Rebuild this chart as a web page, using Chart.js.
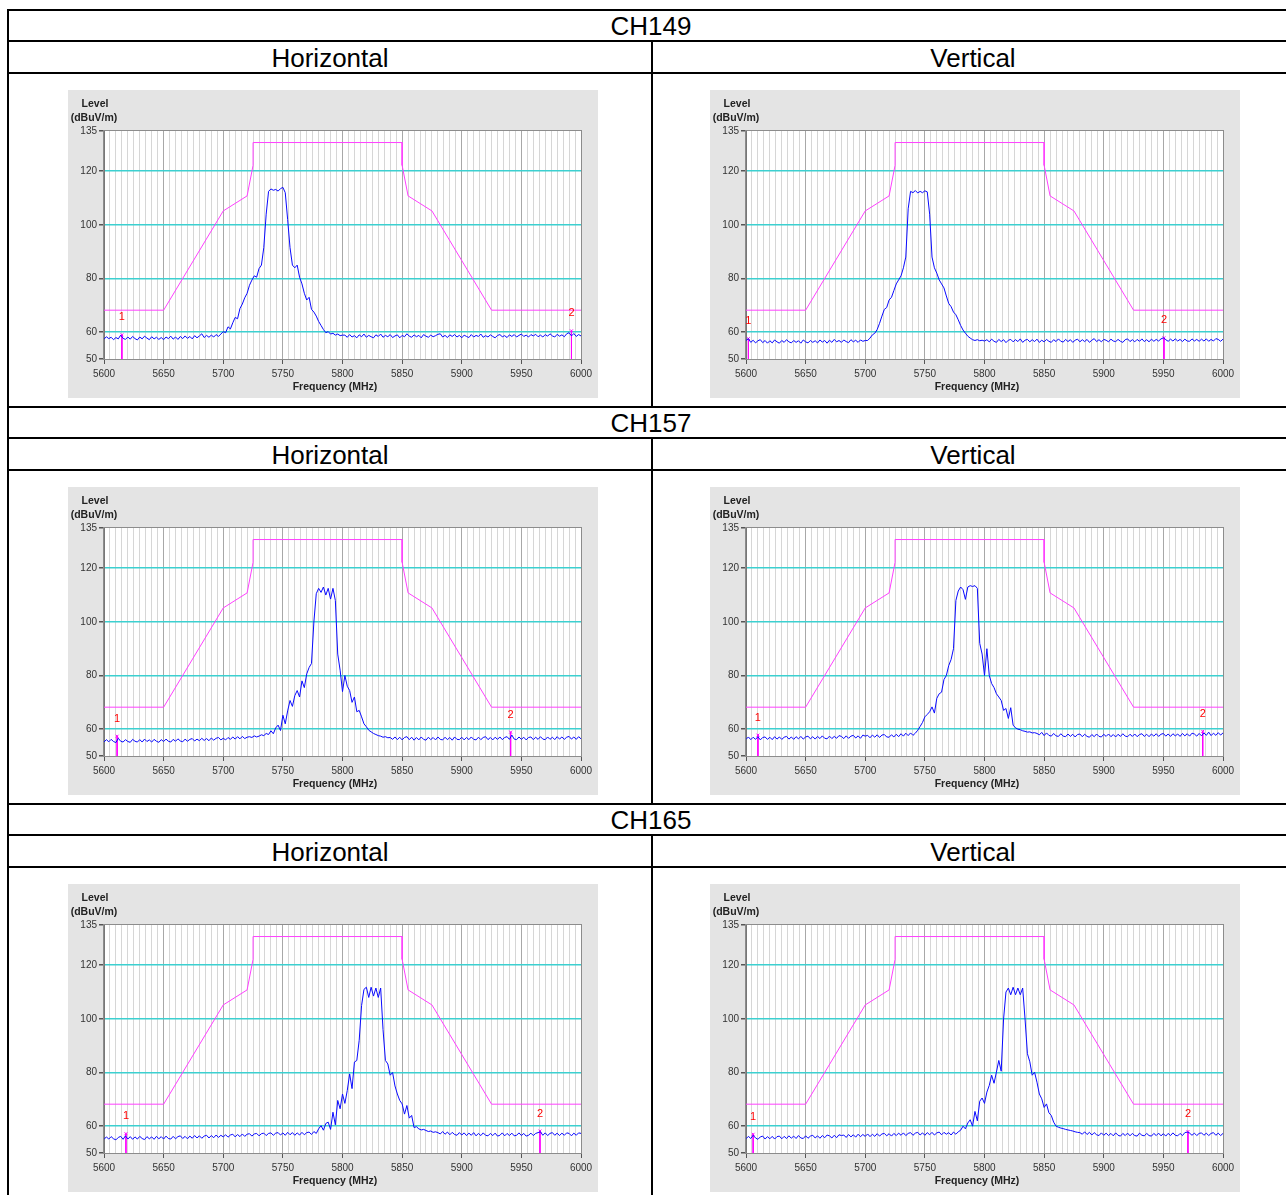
<!DOCTYPE html>
<html>
<head>
<meta charset="utf-8">
<script src="https://cdn.jsdelivr.net/npm/chart.js@4.4.1/dist/chart.umd.min.js"></script>
<style>
body { margin: 0; background: #fff; font-family: Arial, "Liberation Sans", sans-serif; }
#page { position: relative; width: 1286px; height: 1195px; overflow: hidden; }
.hl { position: absolute; left: 7px; width: 1300px; height: 2px; background: #000; }
.vl { position: absolute; width: 2px; background: #000; }
.cap { position: absolute; font-size: 26px; line-height: 30px; text-align: center; color: #000; }
canvas { position: absolute; }
</style>
</head>
<body>
<div id="page"></div>
<script>
// sweep grid of the receiver (MHz)
const sweepStart = 5600;
const sweepStop = 6000;
const sweepStep = 2;

// measured levels (dBuV/m), one value per sweep point
const levelsH149 = [
  57.4,58.3,57.6,58.1,57.2,58.0,57.5,58.9,57.7,57.3,
  58.2,57.4,58.4,57.6,57.1,58.2,57.5,58.5,57.8,57.2,
  58.3,57.5,58.1,57.3,58.0,57.2,58.2,57.6,58.5,57.4,
  58.2,57.3,58.4,57.6,58.6,57.7,58.4,57.5,58.7,57.9,
  58.6,59.4,58.0,58.8,58.1,58.9,58.2,59.1,58.4,59.3,
  60.2,
  59.8,62.0,61.2,63.5,65.5,65.0,68.8,70.5,72.8,74.5,
  77.5,79.4,81.0,80.5,83.7,85.0,91.5,104.0,112.5,113.4,
  112.9,113.2,112.6,113.5,114.0,112.0,102.0,91.5,85.0,84.0,
  85.0,80.5,78.0,74.5,72.0,73.0,68.5,67.5,66.0,64.0,
  62.5,61.0,59.8,60.2,59.3,59.6,58.9,59.3,58.7,58.9,
  58.9,58.1,59.1,58.2,58.7,57.9,59.0,58.3,59.3,58.1,
  58.8,58.3,57.9,59.0,58.4,59.3,58.1,58.8,58.3,59.1,
  58.0,58.6,59.0,57.9,58.8,58.3,59.4,58.5,58.1,59.0,
  58.3,58.8,57.9,59.1,58.5,58.1,58.9,58.3,58.7,59.2,
  59.4,58.2,58.8,58.0,59.0,58.4,59.1,58.2,58.8,57.9,
  58.9,58.4,58.0,59.1,58.2,58.8,58.4,59.3,58.1,58.7,
  58.2,59.0,58.4,57.9,58.8,59.1,58.3,58.7,58.0,59.0,
  58.4,59.1,58.2,58.8,59.3,58.4,58.9,58.2,59.1,58.6,
  59.2,58.3,58.9,58.2,59.1,58.5,59.4,58.6,58.2,59.2,
  58.5,59.0,58.3,59.4,59.8,58.6,59.5,58.4,59.1,58.6
];
const levelsV149 = [
  56.9,57.6,56.2,57.0,56.0,56.8,57.2,56.1,56.9,55.9,
  56.8,56.0,57.1,56.4,55.9,56.9,56.2,57.2,56.4,56.0,
  56.9,56.2,56.8,55.9,57.1,56.4,56.0,56.9,56.2,56.8,
  56.0,57.1,56.3,56.9,55.9,57.0,56.2,57.3,56.4,56.9,
  56.2,57.1,56.5,56.1,57.2,56.4,57.0,56.2,57.1,56.6,
  56.9,
  56.9,57.8,59.0,59.6,61.0,63.3,66.0,68.5,69.2,72.0,
  73.0,75.5,78.0,79.5,81.0,84.0,88.0,106.0,112.5,112.0,
  112.8,111.9,112.5,112.0,112.7,112.3,104.0,88.0,84.0,82.0,
  79.5,78.0,76.5,73.5,70.7,69.5,67.5,66.5,64.6,62.5,
  60.8,59.6,58.5,57.8,57.2,56.9,57.2,56.8,57.0,56.7,
  57.2,56.4,57.4,56.6,56.2,57.3,56.5,57.2,56.1,57.0,
  57.3,56.4,57.2,56.5,57.5,56.2,57.0,57.3,56.4,57.2,
  56.5,57.4,56.2,57.0,56.4,57.3,56.6,56.2,57.2,56.5,
  57.5,56.6,56.3,57.3,56.5,57.2,56.2,57.0,57.4,56.4,
  57.2,56.5,57.3,56.2,57.0,57.6,56.5,57.2,56.4,57.3,
  57.0,56.4,57.4,56.7,56.5,57.3,56.6,56.2,57.2,57.5,
  56.5,57.2,56.4,57.3,56.6,57.5,56.5,57.2,56.4,57.4,
  56.6,57.3,56.7,57.5,57.9,57.2,56.6,57.4,56.7,57.5,
  56.7,57.3,56.5,57.4,56.7,56.6,57.5,56.7,57.3,56.6,
  57.4,56.7,57.5,56.6,57.3,56.7,57.6,57.3,56.6,57.4
];
const levelsH157 = [
  55.2,56.1,55.3,56.2,55.4,55.0,56.6,55.5,55.2,56.1,
  55.4,55.1,56.2,55.5,55.2,56.1,55.2,56.3,55.4,56.0,
  55.2,56.2,55.5,55.1,56.1,55.4,56.3,55.5,55.2,56.2,
  55.5,56.4,55.6,55.3,56.3,55.5,56.2,56.5,55.6,56.3,
  55.7,56.6,55.8,56.5,55.7,56.7,55.9,56.6,56.9,56.0,
  56.6,
  56.0,56.9,56.2,57.1,56.3,57.2,56.4,57.3,56.5,57.0,
  57.2,56.9,57.5,57.1,57.4,57.9,57.6,58.4,58.0,59.4,
  58.3,60.5,61.5,59.5,65.2,62.0,66.8,70.7,68.5,72.5,
  74.4,72.0,78.0,75.5,80.6,83.0,84.5,100.0,110.5,112.5,
  111.0,113.0,110.0,112.5,108.5,112.5,108.0,88.0,82.0,74.0,
  80.0,76.0,74.4,70.0,72.0,66.5,67.0,64.6,62.0,60.9,
  59.6,59.0,58.4,58.0,57.6,57.4,57.0,57.2,56.8,56.9,
  56.2,57.1,56.1,57.0,56.0,56.9,57.2,56.1,57.0,55.9,
  56.9,56.0,57.1,56.2,55.9,57.0,56.1,56.9,56.0,57.1,
  56.2,56.0,57.0,56.1,56.9,55.9,57.1,56.2,56.1,57.0,
  56.0,56.9,56.1,57.1,56.2,56.0,57.0,56.1,56.9,57.2,
  56.1,56.9,56.0,57.0,56.2,57.1,56.1,56.9,57.2,56.2,
  57.8,56.3,56.1,57.1,56.2,57.0,56.0,56.9,57.1,56.1,
  57.0,56.2,57.2,56.3,56.1,57.1,56.2,57.0,56.1,57.2,
  56.3,57.1,56.2,57.0,57.3,56.3,57.1,56.2,57.2,56.4
];
const levelsV157 = [
  56.2,57.1,56.1,57.0,56.2,57.2,56.0,56.9,57.1,56.2,
  57.0,56.1,57.2,56.3,57.1,56.2,57.0,57.3,56.3,57.1,
  56.2,57.2,56.4,57.3,56.3,57.1,57.4,56.4,57.2,56.3,
  57.3,56.5,57.5,56.6,56.4,57.4,56.5,57.3,56.6,57.6,
  57.3,56.5,57.5,56.6,57.4,57.7,56.7,57.5,56.6,57.8,
  57.4,
  57.7,56.8,57.8,57.0,57.9,56.9,57.8,58.0,57.1,57.0,
  57.9,57.1,58.1,57.2,58.3,57.4,58.5,57.6,58.6,57.7,
  58.5,59.6,61.0,62.5,64.6,65.5,66.5,68.3,66.0,71.5,
  73.2,73.8,78.5,80.0,83.7,86.0,90.0,108.0,111.5,113.0,
  112.0,108.4,113.0,113.5,113.2,113.5,112.5,92.0,88.0,80.0,
  90.0,80.0,77.0,75.5,73.2,72.0,70.7,67.0,67.7,64.0,
  68.0,61.5,60.5,60.0,59.8,59.4,59.2,58.9,59.0,58.6,
  58.7,58.4,57.9,58.8,57.6,58.6,57.7,57.4,58.4,57.5,
  57.3,58.3,57.4,57.2,58.2,57.3,58.1,57.1,58.0,58.2,
  57.2,58.1,57.3,57.0,58.0,57.2,58.2,57.3,57.1,58.1,
  57.3,58.2,57.2,58.0,57.1,58.1,57.3,58.3,57.4,57.2,
  58.1,57.3,58.2,57.2,58.0,58.3,57.3,58.1,57.2,58.2,
  57.4,58.3,57.3,58.1,58.4,57.4,58.2,57.3,58.3,57.5,
  58.2,57.3,58.4,57.5,58.3,57.4,58.5,58.2,57.4,58.4,
  57.5,58.6,57.7,58.9,57.6,58.5,57.7,58.7,57.8,58.6
];
const levelsH165 = [
  55.1,56.0,55.2,56.1,55.3,54.9,55.8,56.2,55.1,56.4,
  55.2,56.1,55.1,56.0,55.2,56.2,55.4,55.0,56.1,55.3,
  56.0,55.1,56.2,55.3,56.1,55.2,56.3,55.4,55.2,56.2,
  55.3,56.1,56.4,55.4,56.2,55.3,56.3,55.5,56.5,55.6,
  56.4,55.5,56.3,56.6,55.6,56.5,55.7,56.7,55.8,56.6,
  56.0,
  56.8,55.9,56.7,57.0,56.0,56.9,56.1,57.1,56.2,57.0,
  57.2,56.3,57.1,57.3,56.4,57.2,57.4,56.5,57.3,57.5,
  56.6,57.4,57.6,56.7,57.5,56.6,57.7,56.8,57.6,56.6,
  57.5,56.7,57.7,56.8,57.6,57.8,56.9,58.0,57.3,59.0,
  60.2,58.5,61.0,61.5,58.8,65.2,60.5,69.6,66.5,72.0,
  68.5,73.3,79.5,74.0,83.9,84.5,92.0,105.0,111.0,111.8,
  108.0,111.8,108.5,111.5,108.0,111.5,96.0,84.5,83.2,79.0,
  80.0,75.0,72.0,69.6,68.3,64.5,67.7,63.0,64.0,59.5,
  59.8,59.0,58.6,58.8,58.4,58.0,58.2,57.7,57.9,57.6,
  57.1,58.0,57.0,57.8,56.8,57.7,56.9,56.6,57.6,56.7,
  57.5,56.5,57.4,56.6,57.6,56.4,57.3,56.5,57.5,56.6,
  56.4,57.3,56.5,57.4,56.3,56.6,57.5,56.4,57.3,56.5,
  57.4,56.4,56.6,57.5,56.5,57.3,56.3,56.6,57.4,56.5,
  57.3,57.6,57.9,56.6,57.5,56.5,57.3,57.6,56.6,57.4,
  56.5,57.4,56.6,57.5,57.3,56.4,57.4,56.6,57.5,57.3
];
const levelsV165 = [
  55.3,56.2,55.4,56.6,55.6,55.1,56.0,56.3,55.2,56.1,
  55.3,56.2,55.2,56.1,56.3,55.3,56.2,55.4,56.4,55.5,
  56.3,55.4,56.5,55.6,55.4,56.4,55.5,56.3,56.6,55.6,
  56.4,55.5,56.5,55.7,56.7,56.4,55.6,56.6,55.7,56.8,
  56.5,56.7,55.8,56.9,56.0,56.8,55.9,57.0,56.1,56.9,
  56.2,
  57.1,56.1,57.0,56.2,57.2,56.3,57.1,57.3,56.4,57.2,
  56.3,57.3,56.5,57.4,56.6,57.5,56.5,57.3,57.6,56.6,
  57.4,57.7,56.7,57.5,56.6,57.6,56.8,57.7,56.7,57.5,
  57.8,56.8,57.7,57.0,57.6,56.7,57.8,57.0,57.9,58.5,
  60.0,59.0,61.2,62.4,60.0,65.5,62.0,69.3,70.5,68.5,
  72.7,75.2,79.0,76.0,80.2,84.5,80.5,100.0,110.0,111.5,
  109.0,111.8,109.0,111.5,109.0,111.5,100.0,87.0,84.0,79.0,
  80.1,76.4,72.0,70.2,67.0,68.3,65.0,64.0,61.5,60.0,
  59.6,59.3,59.1,58.8,58.6,58.4,58.2,57.9,57.7,57.6,
  57.0,57.9,56.9,57.7,56.7,57.6,56.8,56.5,57.5,56.6,
  57.4,56.5,57.3,56.4,57.5,56.6,56.3,57.3,56.5,57.4,
  56.4,57.3,56.5,56.3,57.4,56.6,56.4,57.3,56.5,56.3,
  57.3,56.5,57.4,56.4,57.2,56.3,57.3,56.5,57.5,56.6,
  56.4,57.3,56.5,57.6,57.8,57.4,56.6,57.4,56.5,57.3,
  57.5,56.6,57.4,56.5,57.3,57.6,56.6,57.4,56.5,57.3
];

// limit mask
const maskFreqs = [5600, 5650, 5700, 5720, 5725, 5725, 5850, 5850, 5855, 5875, 5925, 6000];
const maskLevels = [68.2, 68.2, 105.2, 110.8, 122.2, 130.7, 130.7, 122.2, 110.8, 105.2, 68.2, 68.2];

// markers 1 and 2
const markerFreqsH149 = [5615, 5992];
const markerLevelsH149 = [59.0, 60.5];
const markerFreqsV149 = [5602, 5950.5];
const markerLevelsV149 = [57.6, 57.9];
const markerFreqsH157 = [5611, 5941];
const markerLevelsH157 = [57.4, 58.9];
const markerFreqsV157 = [5610, 5983];
const markerLevelsV157 = [57.8, 59.2];
const markerFreqsH165 = [5618.4, 5965.6];
const markerLevelsH165 = [57.2, 58.2];
const markerFreqsV165 = [5606, 5970.6];
const markerLevelsV165 = [57.0, 58.0];

// axis ticks
const yTickValues = [50, 60, 80, 100, 120, 135];
const yCyanLines = [60, 80, 100, 120];
const xLabelStep = 50;
const xGridStep = 5;

const channels = ['CH149', 'CH157', 'CH165'];
const polarisations = ['Horizontal', 'Vertical'];

const panels = [
  { levels: levelsH149, mf: markerFreqsH149, ml: markerLevelsH149 },
  { levels: levelsV149, mf: markerFreqsV149, ml: markerLevelsV149 },
  { levels: levelsH157, mf: markerFreqsH157, ml: markerLevelsH157 },
  { levels: levelsV157, mf: markerFreqsV157, ml: markerLevelsV157 },
  { levels: levelsH165, mf: markerFreqsH165, ml: markerLevelsH165 },
  { levels: levelsV165, mf: markerFreqsV165, ml: markerLevelsV165 }
];

const page = document.getElementById('page');
function addEl(cls, style, text) {
  const d = document.createElement('div');
  d.className = cls;
  Object.assign(d.style, style);
  if (text) d.textContent = text;
  page.appendChild(d);
}

// table frame
const blockTop = [9, 406, 803];
addEl('vl', { left: '7px', top: '9px', height: '1190px' });
blockTop.forEach((t, r) => {
  addEl('hl', { top: t + 'px' });
  addEl('hl', { top: (t + 31) + 'px' });
  addEl('hl', { top: (t + 63) + 'px' });
  addEl('vl', { left: '651px', top: (t + 31) + 'px', height: (r < 2 ? 366 : 400) + 'px' });
  addEl('cap', { left: '8px', width: '1286px', top: (t + 2) + 'px' }, channels[r]);
  addEl('cap', { left: '8px', width: '644px', top: (t + 34) + 'px' }, polarisations[0]);
  addEl('cap', { left: '652px', width: '642px', top: (t + 34) + 'px' }, polarisations[1]);
});

Chart.defaults.font.family = 'Arial, "Liberation Sans", sans-serif';

const sweepFreqs = [];
for (let f = sweepStart; f <= sweepStop; f += sweepStep) sweepFreqs.push(f);
const xGridValues = [];
for (let f = sweepStart; f <= sweepStop; f += xGridStep) xGridValues.push(f);

const panelDeco = {
  id: 'panelDeco',
  beforeDraw(chart) {
    const { ctx, chartArea: a } = chart;
    ctx.save();
    ctx.fillStyle = '#e4e4e4';
    ctx.fillRect(0, 0, chart.width, chart.height);
    ctx.fillStyle = '#ffffff';
    ctx.fillRect(a.left, a.top, a.right - a.left, a.bottom - a.top);
    ctx.restore();
  },
  afterDraw(chart) {
    const { ctx, chartArea: a } = chart;
    const xs = chart.scales.x, ys = chart.scales.y;
    ctx.save();
    ctx.strokeStyle = '#8c8c8c';
    ctx.lineWidth = 1;
    ctx.strokeRect(a.left - 0.5, a.top - 0.5, a.right - a.left + 1, a.bottom - a.top + 1);
    ctx.fillStyle = '#222';
    ctx.font = 'bold 10.5px Arial, "Liberation Sans", sans-serif';
    ctx.textAlign = 'center';
    ctx.textBaseline = 'middle';
    ctx.fillText('Level', 27, 14);
    ctx.fillText('(dBuV/m)', 26, 28);
    ctx.fillText('Frequency (MHz)', 267, 297);
    const p = chart.options.plugins.panelDeco;
    ctx.fillStyle = '#ff0000';
    ctx.font = '11px Arial, "Liberation Sans", sans-serif';
    p.mf.forEach((f, i) => {
      ctx.fillText(String(i + 1), xs.getPixelForValue(f), ys.getPixelForValue(p.ml[i] + 6.5));
    });
    ctx.restore();
  }
};

const panelPos = [[68, 90], [710, 90], [68, 487], [710, 487], [68, 884], [710, 884]];

panels.forEach((p, k) => {
  const cv = document.createElement('canvas');
  cv.width = 530;
  cv.height = 308;
  cv.style.left = panelPos[k][0] + 'px';
  cv.style.top = panelPos[k][1] + 'px';
  page.appendChild(cv);

  const datasets = [
    {
      data: maskFreqs.map((f, i) => ({ x: f, y: maskLevels[i] })),
      borderColor: '#ff40ff', borderWidth: 1, pointRadius: 0, tension: 0
    },
    {
      data: sweepFreqs.map((f, i) => ({ x: f, y: p.levels[i] })),
      borderColor: '#0a0aff', borderWidth: 1, pointRadius: 0, tension: 0
    }
  ];
  p.mf.forEach((f, i) => {
    datasets.push({
      data: [{ x: f, y: p.ml[i] }, { x: f, y: 50 }],
      borderColor: '#ff00ff', borderWidth: 1,
      pointRadius: [2, 0], pointStyle: 'crossRot',
      pointBorderColor: '#ff00ff', pointBorderWidth: 1
    });
  });

  new Chart(cv, {
    type: 'line',
    data: { datasets: datasets },
    plugins: [panelDeco],
    options: {
      responsive: false,
      animation: false,
      devicePixelRatio: 1,
      layout: { padding: { left: 0, right: 17, top: 41, bottom: 0 } },
      plugins: {
        legend: { display: false },
        tooltip: { enabled: false },
        panelDeco: { mf: p.mf, ml: p.ml }
      },
      scales: {
        x: {
          type: 'linear', min: sweepStart, max: sweepStop,
          afterBuildTicks: s => { s.ticks = xGridValues.map(v => ({ value: v })); },
          afterFit: s => { s.height = 39; },
          ticks: {
            autoSkip: false, maxRotation: 0, padding: 4,
            color: '#333', font: { size: 10 },
            callback: v => (v % xLabelStep === 0 ? String(v) : '')
          },
          grid: {
            color: c => (c.tick && c.tick.value % xLabelStep === 0 ? '#a8a8a8' : '#d6d6d6'),
            tickColor: c => (c.tick && c.tick.value % xLabelStep === 0 ? '#555' : 'rgba(0,0,0,0)'),
            tickLength: 5, lineWidth: 1
          },
          border: { display: true, color: '#777' }
        },
        y: {
          type: 'linear', min: 50, max: 135,
          afterBuildTicks: s => { s.ticks = yTickValues.map(v => ({ value: v })); },
          afterFit: s => { s.width = 36; },
          ticks: { color: '#333', font: { size: 10 }, padding: 2 },
          grid: {
            color: c => (c.tick && yCyanLines.includes(c.tick.value) ? 'rgb(60,208,208)' : 'rgba(0,0,0,0)'),
            tickColor: '#555', tickLength: 5, lineWidth: 1.5
          },
          border: { display: true, color: '#777' }
        }
      }
    }
  });
});
</script>
</body>
</html>
